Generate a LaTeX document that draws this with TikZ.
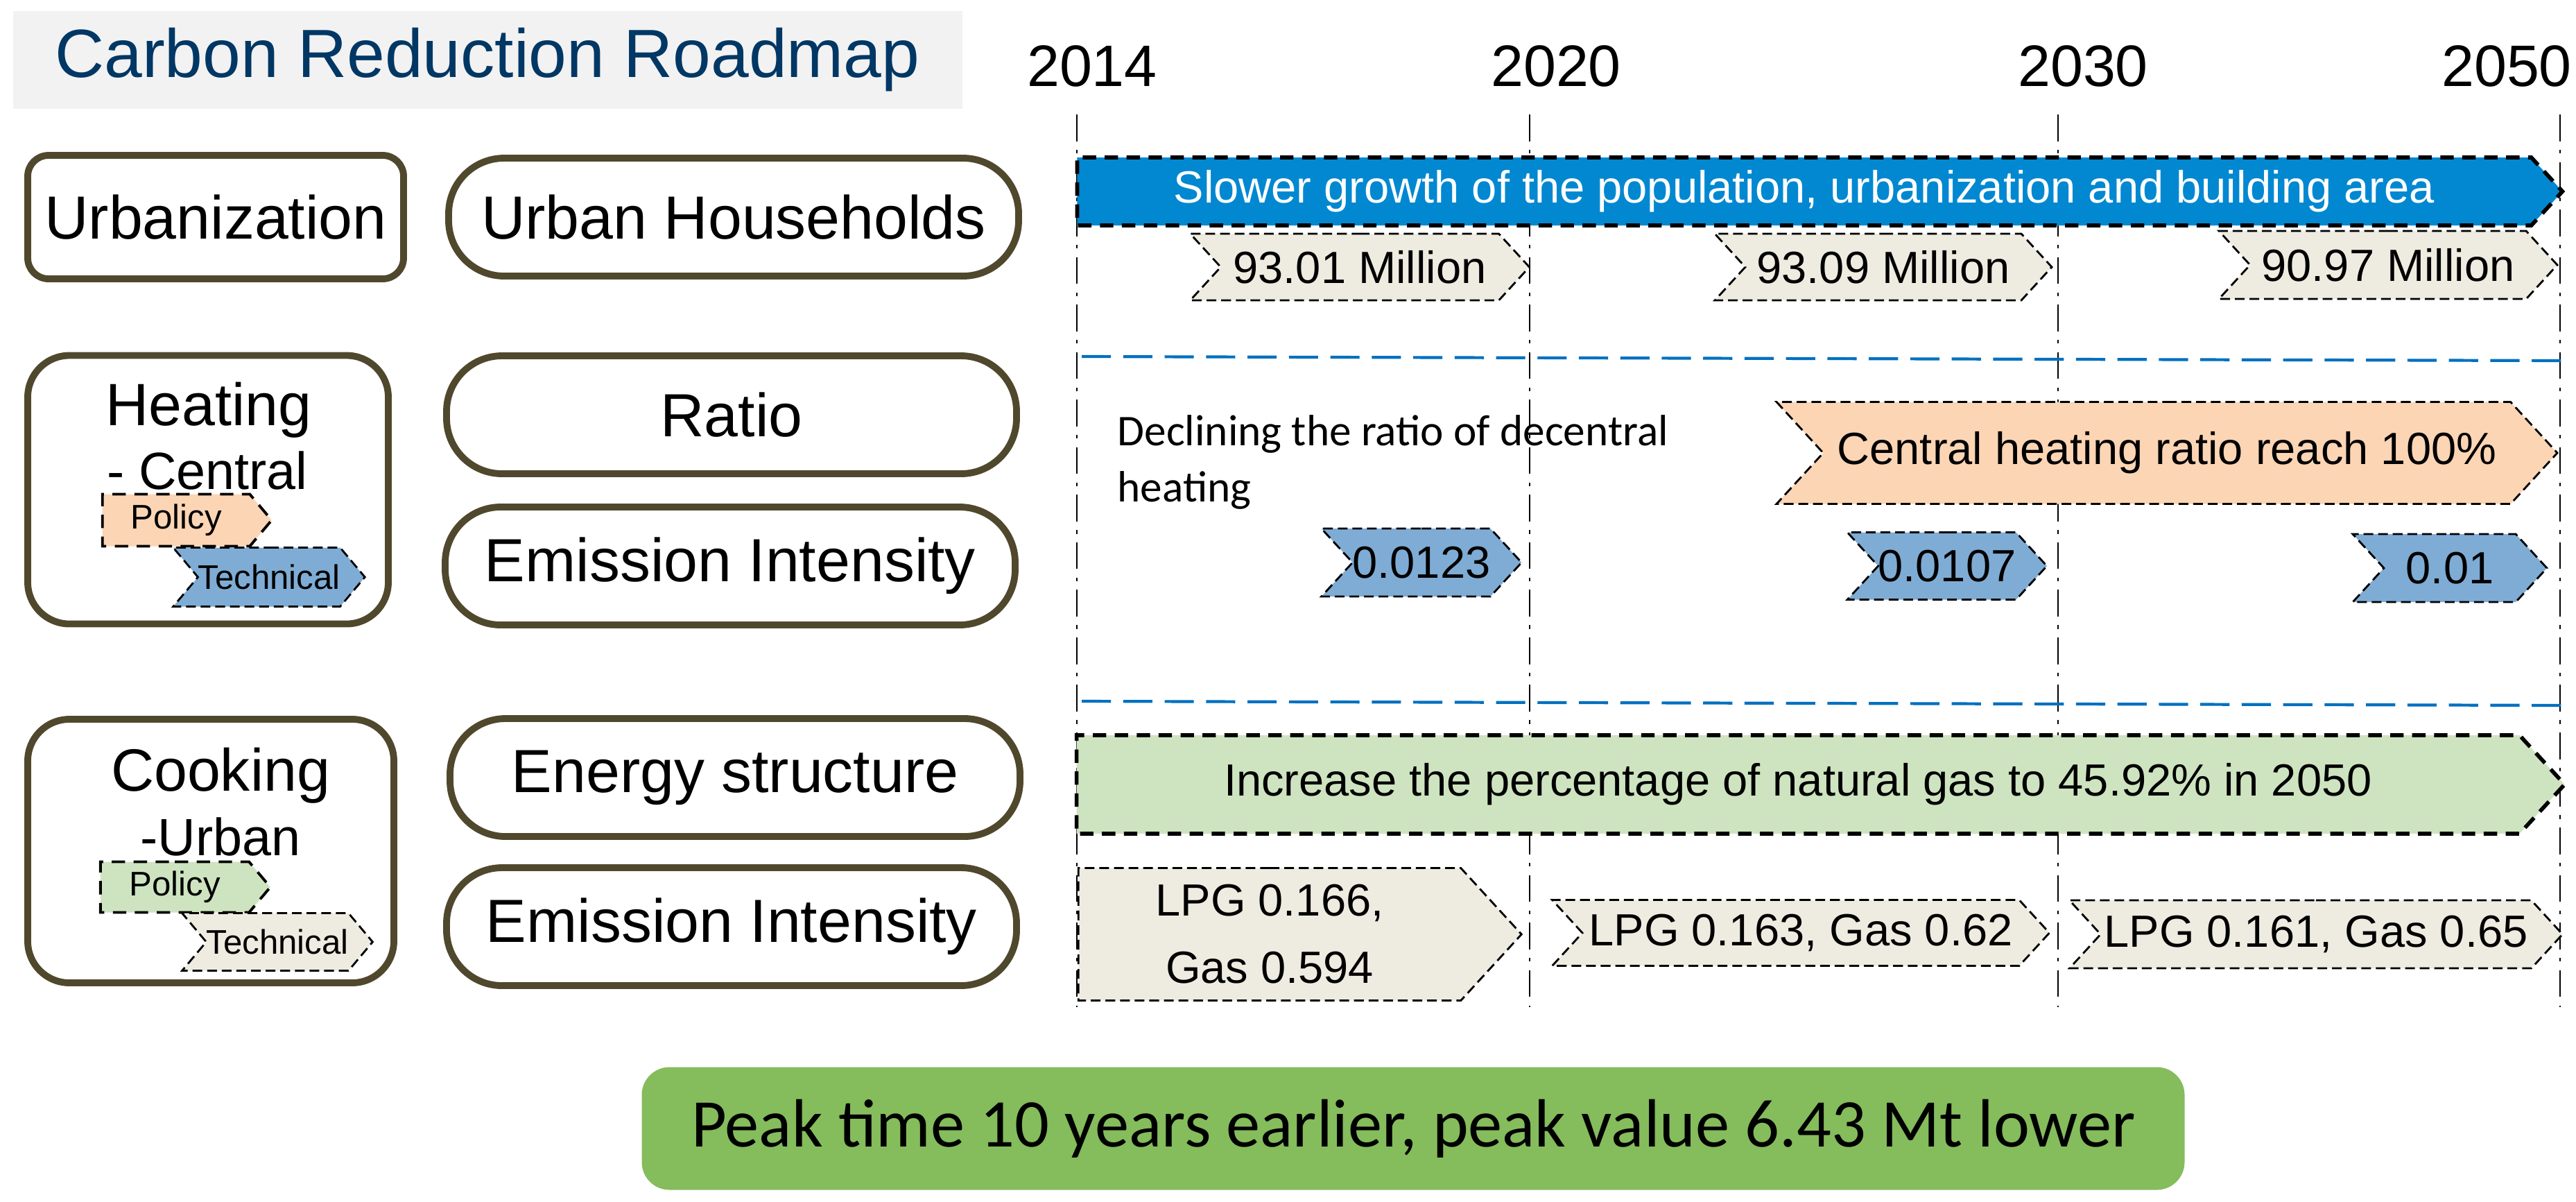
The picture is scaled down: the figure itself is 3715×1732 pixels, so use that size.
\documentclass[tikz,border=0pt]{standalone}
\usepackage{fontspec}
\setmainfont{Liberation Sans}
\newfontfamily\carlito{Carlito}
\usetikzlibrary{shapes.symbols,positioning}

\definecolor{edgeolive}{RGB}{80,72,45}
\definecolor{titlegray}{RGB}{242,242,242}
\definecolor{titleblue}{RGB}{0,55,100}
\definecolor{bannerblue}{RGB}{2,136,209}
\definecolor{sepblue}{RGB}{0,112,192}
\definecolor{peach}{RGB}{252,213,181}
\definecolor{techblue}{RGB}{127,172,212}
\definecolor{beige}{RGB}{238,236,225}
\definecolor{lightgreen}{RGB}{206,228,192}
\definecolor{peakgreen}{RGB}{133,188,92}

\begin{document}
\begin{tikzpicture}[
        x=0.1mm, y=-0.1mm,
        catbox/.style={draw=edgeolive, line width=2.8pt, rounded corners=6mm, fill=white,
            font=\fontsize{25}{30}\selectfont},
        catlbl/.style={inner sep=0pt, anchor=base, font=\fontsize{24.5}{28}\selectfont},
        catsub/.style={inner sep=0pt, anchor=base, font=\fontsize{21.5}{25}\selectfont},
        itembox/.style={draw=edgeolive, line width=2.8pt, rounded corners=8mm,
            minimum width=82.2mm, minimum height=17mm, font=\fontsize{25}{30}\selectfont},
        yearlbl/.style={font=\fontsize{24}{28}\selectfont},
        timeline/.style={line width=0.8pt, dash pattern=on 11pt off 3.5pt on 1.5pt off 3.5pt},
        sepline/.style={draw=sepblue, line width=1.2pt, dash pattern=on 12pt off 5pt},
        thindash/.style={draw=black, line width=0.8pt, dash pattern=on 4pt off 2pt},
        thickdash/.style={draw=black, line width=1.6pt, dash pattern=on 5.5pt off 3.5pt},
        pentag/.style={signal, signal to=east, signal from=nowhere, signal pointer angle=95,
            inner sep=0pt, font=\fontsize{18.5}{27.6}\selectfont},
        chevtag/.style={signal, signal to=east, signal from=west, signal pointer angle=95,
            inner sep=0pt, font=\fontsize{18.5}{27.6}\selectfont},
        smalltag/.style={signal, signal to=east, signal pointer angle=100, inner sep=0pt,
            font=\fontsize{14}{16}\selectfont},
    ]
    \useasboundingbox (0,0) rectangle (3715,1732);

    % title and years
    \node[fill=titlegray, minimum width=136.9mm, minimum height=14.1mm,
        text=titleblue, font=\fontsize{28}{32}\selectfont] (title) at (703,86) {Carbon Reduction Roadmap};
    \node[yearlbl] (y2014) at (1575,95) {2014};
    \node[yearlbl] (y2020) at (2244,95) {2020};
    \node[yearlbl] (y2030) at (3004,95) {2030};
    \node[yearlbl] (y2050) at (3615,95) {2050};

    % time lines and separators
    \foreach \xx in {1553,2206,2968,3692}
        \draw[timeline] (\xx,165) -- (\xx,1452);
    \draw[sepline] (1560,514) -- (3700,520);
    \draw[sepline] (1560,1011) -- (3700,1017);

    % left column
    \node[catbox, rounded corners=3mm, minimum width=54.2mm, minimum height=17.8mm] (urb) at (311,313) {Urbanization};
    \node[catbox, minimum width=52mm, minimum height=38.7mm] (heat) at (300,706) {};
    \node[catlbl] (heatlbl) at (301,613) {Heating};
    \node[catsub] (heatsub) at (299,705) {- Central};
    \node[smalltag, signal from=nowhere, fill=peach, thickdash, line width=1.1pt,
        minimum width=24.4mm, minimum height=7.5mm] (heatpol) at (254,750) {Policy};
    \node[smalltag, signal from=west, fill=techblue, thindash,
        minimum width=27.3mm, minimum height=8.5mm] (heattech) at (388,832) {Technical};

    \node[catbox, minimum width=52.8mm, minimum height=38mm] (cook) at (304,1227) {};
    \node[catlbl] (cooklbl) at (318,1140) {Cooking};
    \node[catsub] (cooksub) at (318,1233) {-Urban};
    \node[smalltag, signal from=nowhere, fill=lightgreen, thickdash, line width=1.1pt,
        minimum width=24.5mm, minimum height=7.3mm] (cookpol) at (252,1279) {Policy};
    \node[smalltag, signal from=west, fill=beige, thindash,
        minimum width=27.3mm, minimum height=8.3mm] (cooktech) at (400,1358) {Technical};

    \node[itembox] (hh) at (1058,313) {Urban Households};
    \node[itembox] (ratio) at (1055,598) {Ratio};
    \node[itembox] (heatint) at (1053,816) {Emission Intensity};
    \node[itembox] (enstr) at (1060,1121) {Energy structure};
    \node[itembox] (cookint) at (1055,1336) {Emission Intensity};

    % urbanization row
    \node[pentag, fill=bannerblue, thickdash, text=white,
        minimum width=214.2mm, minimum height=9.8mm] (popband) at (2602,276)
        {Slower growth of the population, urbanization and building area};
    \node[chevtag, fill=beige, thindash, minimum width=48.9mm, minimum height=9.6mm] (pop1) at (1961,385) {93.01 Million};
    \node[chevtag, fill=beige, thindash, minimum width=48.6mm, minimum height=9.6mm] (pop2) at (2716,385) {93.09 Million};
    \node[chevtag, fill=beige, thindash, minimum width=48.8mm, minimum height=9.8mm] (pop3) at (3444,382) {90.97 Million};

    % heating rows
    \node[anchor=north west, inner sep=0pt, align=left, font=\carlito\fontsize{18}{23}\selectfont]
        (decline) at (1611,598) {Declining the ratio of decentral\\heating};
    \node[chevtag, fill=peach, thindash, minimum width=112.6mm, minimum height=14.7mm] (central) at (3125,653)
        {Central heating ratio reach 100\%};
    \node[chevtag, fill=techblue, thindash, minimum width=28.3mm, minimum height=9.8mm] (hi1) at (2050,811) {0.0123};
    \node[chevtag, fill=techblue, thindash, minimum width=28.1mm, minimum height=9.7mm] (hi2) at (2808,816) {0.0107};
    \node[chevtag, fill=techblue, thindash, minimum width=28mm, minimum height=9.8mm] (hi3) at (3533,819) {0.01};

    % cooking rows
    \node[pentag, fill=lightgreen, thickdash, minimum width=214.6mm, minimum height=14.2mm] (gasband) at (2593,1131)
        {Increase the percentage of natural gas to 45.92\% in 2050};
    \node[pentag, fill=beige, thindash, align=center, minimum width=63.9mm, minimum height=19.1mm] (lpg1) at (1831,1347)
        {LPG 0.166,\\Gas 0.594};
    \node[chevtag, fill=beige, thindash, minimum width=71.7mm, minimum height=9.5mm] (lpg2) at (2597,1345) {LPG 0.163, Gas 0.62};
    \node[chevtag, fill=beige, thindash, minimum width=71.1mm, minimum height=9.8mm] (lpg3) at (3340,1347) {LPG 0.161, Gas 0.65};

    % result
    \node[fill=peakgreen, rounded corners=4mm, minimum width=222.5mm, minimum height=17.7mm,
        font=\carlito\fontsize{28}{32}\selectfont] (peak) at (2038,1627)
        {Peak time 10 years earlier, peak value 6.43 Mt lower};
\end{tikzpicture}
\end{document}
